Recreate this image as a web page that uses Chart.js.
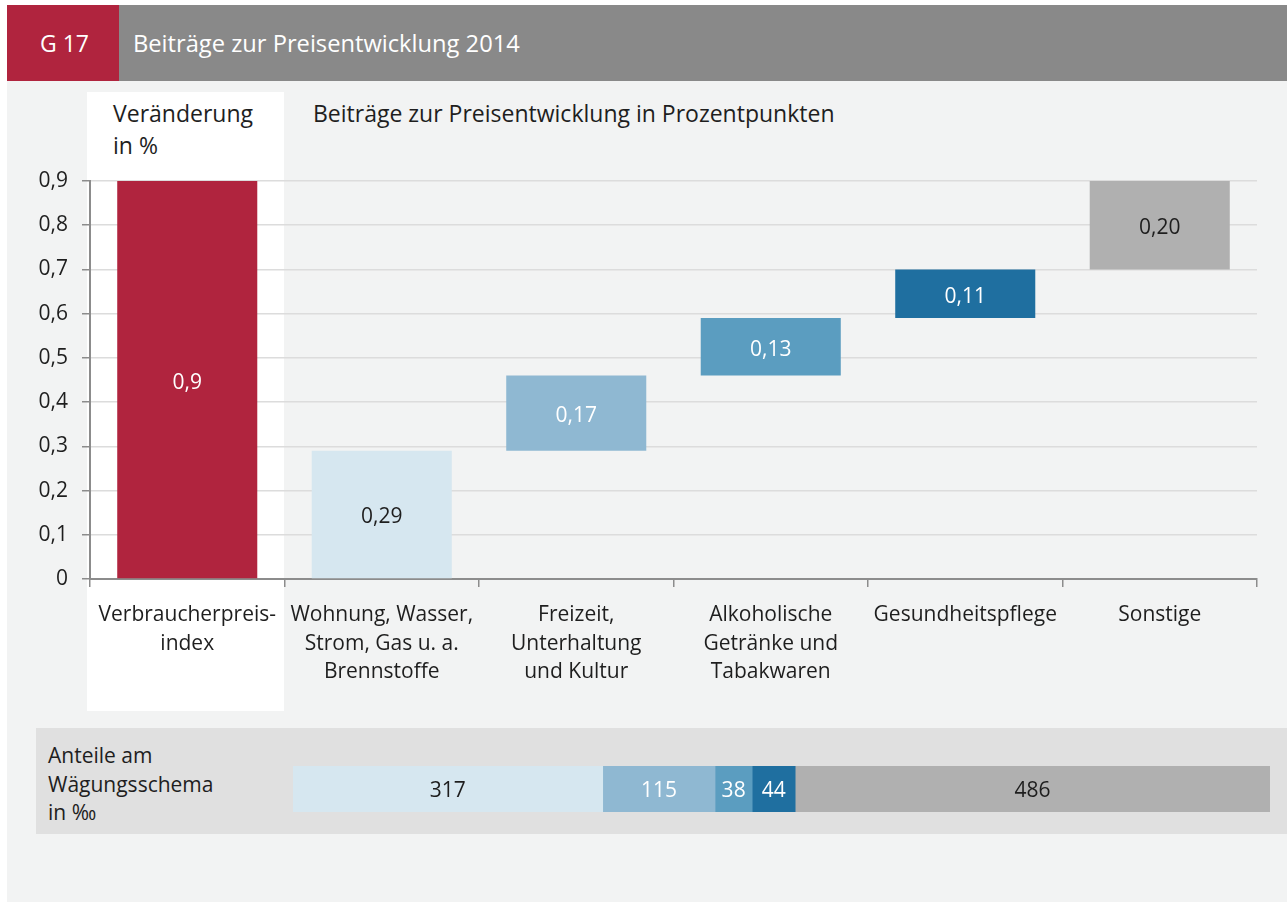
<!DOCTYPE html>
<html lang="de">
<head>
<meta charset="utf-8">
<script src="https://cdn.jsdelivr.net/npm/chart.js@4.4.1/dist/chart.umd.min.js"></script>
<style>
  body { margin: 0; width: 1287px; height: 902px; position: relative; overflow: hidden; background: #fff; font-family: "Open Sans", sans-serif; color: #1e1e1e; }
  .abs { position: absolute; }
  #bg { left: 7px; top: 81px; width: 1280px; height: 821px; background: #f2f3f3; }
  #nr { left: 7px; top: 5px; width: 112px; height: 76px; background: #b0243e; color: #fff; font-size: 23px; line-height: 76px; text-indent: 33px; }
  #head { left: 119px; top: 5px; width: 1168px; height: 76px; background: #898989; color: #fff; font-size: 23.7px; line-height: 76px; text-indent: 14px; }
  #panel { left: 87px; top: 92px; width: 197px; height: 619px; background: #fff; }
  #unit { left: 113px; top: 97px; font-size: 23px; line-height: 32px; }
  #sub { left: 313px; top: 97px; font-size: 23px; line-height: 32px; }
  #wbox { left: 36px; top: 728px; width: 1251px; height: 106px; background: #e0e0e0; }
  #wlabel { left: 48px; top: 741px; font-size: 21px; line-height: 28.5px; }
  #main { left: 0; top: 0; }
  #weights { left: 293px; top: 766px; }
</style>
</head>
<body>
<div class="abs" id="bg"></div>
<div class="abs" id="nr">G 17</div>
<div class="abs" id="head">Beiträge zur Preisentwicklung 2014</div>
<div class="abs" id="panel"></div>
<div class="abs" id="unit">Veränderung<br>in %</div>
<div class="abs" id="sub">Beiträge zur Preisentwicklung in Prozentpunkten</div>
<div class="abs" id="wbox"></div>
<div class="abs" id="wlabel">Anteile am<br>Wägungsschema<br>in ‰</div>
<div class="abs" id="main"><canvas id="chartMain" width="1287" height="902"></canvas></div>
<div class="abs" id="weights"><canvas id="chartWeights" width="977" height="46"></canvas></div>

<script>
//Kategorien
const categories = [
  ["Verbraucherpreis-", "index"],
  ["Wohnung, Wasser,", "Strom, Gas u. a.", "Brennstoffe"],
  ["Freizeit,", "Unterhaltung", "und Kultur"],
  ["Alkoholische", "Getränke und", "Tabakwaren"],
  ["Gesundheitspflege"],
  ["Sonstige"]
];

//Beiträge (Prozentpunkte) und Startwert je Balken
const contributions = [0.9, 0.29, 0.17, 0.13, 0.11, 0.20];
const barStart = [0, 0, 0.29, 0.46, 0.59, 0.70];
const valueLabels = ["0,9", "0,29", "0,17", "0,13", "0,11", "0,20"];

//Wägungsschema in Promille
const weightValues = [317, 115, 38, 44, 486];

//Achse
const yTicks = [0, 0.1, 0.2, 0.3, 0.4, 0.5, 0.6, 0.7, 0.8, 0.9];

const barColors = ["#b0243e", "#d6e7f0", "#8fb8d2", "#5b9dc0", "#1f6fa0", "#b0b0b0"];
const labelColors = ["#fff", "#1e1e1e", "#fff", "#fff", "#fff", "#1e1e1e"];
const weightColors = ["#d6e7f0", "#8fb8d2", "#5b9dc0", "#1f6fa0", "#b0b0b0"];
const weightLabelColors = ["#1e1e1e", "#fff", "#fff", "#fff", "#1e1e1e"];

const FONT = "'Open Sans', sans-serif";

function fmt(v) { return String(Math.round(v * 10) / 10).replace(".", ","); }

//Beschriftung in den Balken
function barLabels(texts, colors, size) {
  return {
    id: "barLabels",
    afterDatasetsDraw(chart) {
      const ctx = chart.ctx;
      const meta = chart.getDatasetMeta(0);
      ctx.save();
      ctx.font = size + "px " + FONT;
      ctx.textAlign = "center";
      ctx.textBaseline = "middle";
      meta.data.forEach((bar, i) => {
        const p = bar.getCenterPoint();
        ctx.fillStyle = colors[i];
        ctx.fillText(texts[i], p.x, p.y + 3);
      });
      ctx.restore();
    }
  };
}

//Hauptgrafik
new Chart(document.getElementById("chartMain"), {
  type: "bar",
  data: {
    labels: categories,
    datasets: [{
      data: contributions.map((v, i) => [barStart[i], barStart[i] + v]),
      backgroundColor: barColors,
      borderWidth: 0,
      barPercentage: 0.72,
      categoryPercentage: 1
    }]
  },
  options: {
    responsive: false,
    animation: false,
    layout: { padding: { left: 20, top: 181, right: 30, bottom: 193 } },
    plugins: { legend: { display: false }, tooltip: { enabled: false } },
    scales: {
      x: {
        afterFit: s => { s.height = 130; },
        grid: { drawOnChartArea: false, drawTicks: true, tickLength: 8, tickColor: "#8c8c8c", lineWidth: 1.5 },
        border: { color: "#8c8c8c", width: 2 },
        ticks: { color: "#1e1e1e", padding: 14, font: { family: FONT, size: 21, lineHeight: 1.36 }, maxRotation: 0, autoSkip: false }
      },
      y: {
        min: 0, max: 0.9,
        afterFit: s => { s.width = 70; },
        afterBuildTicks: s => { s.ticks = yTicks.map(v => ({ value: v })); },
        grid: { color: "#dcdcdc", lineWidth: 1.5, tickLength: 8, tickColor: "#8c8c8c" },
        border: { color: "#8c8c8c", width: 2 },
        ticks: { color: "#1e1e1e", padding: 14, font: { family: FONT, size: 21 }, callback: v => fmt(v) }
      }
    }
  },
  plugins: [barLabels(valueLabels, labelColors, 21)]
});

//Wägungsschema
new Chart(document.getElementById("chartWeights"), {
  type: "bar",
  data: {
    labels: [""],
    datasets: weightValues.map((v, i) => ({
      data: [v],
      backgroundColor: weightColors[i],
      borderWidth: 0,
      barPercentage: 1,
      categoryPercentage: 1
    }))
  },
  options: {
    indexAxis: "y",
    responsive: false,
    animation: false,
    layout: { padding: 0 },
    plugins: { legend: { display: false }, tooltip: { enabled: false } },
    scales: {
      x: { stacked: true, min: 0, max: 1000, display: false },
      y: { stacked: true, display: false }
    }
  },
  plugins: [{
    id: "weightLabels",
    afterDatasetsDraw(chart) {
      const ctx = chart.ctx;
      ctx.save();
      ctx.font = "21px " + FONT;
      ctx.textAlign = "center";
      ctx.textBaseline = "middle";
      chart.data.datasets.forEach((d, i) => {
        const p = chart.getDatasetMeta(i).data[0].getCenterPoint();
        ctx.fillStyle = weightLabelColors[i];
        ctx.fillText(String(weightValues[i]), p.x, p.y + 2);
      });
      ctx.restore();
    }
  }]
});
</script>
</body>
</html>
